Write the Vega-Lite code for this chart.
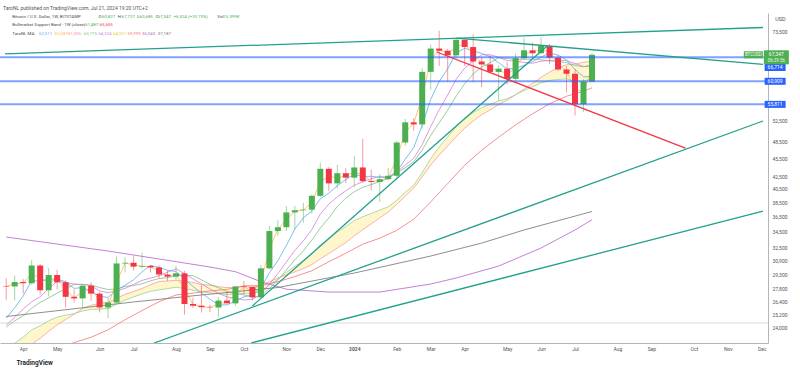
{
"$schema":"https://vega.github.io/schema/vega-lite/v6.json",
"width":768,"height":330,
"autosize":{"type":"none"},
"padding":{"top":13,"left":0,"right":32,"bottom":27},
"background":"#ffffff",
"title":{"text":"TaroNL published on TradingView.com, Jul 21, 2024 19:20 UTC+2","anchor":"start","fontSize":5,"font":"Roboto","fontWeight":"normal","color":"#555555","offset":2,"dx":4},
"config":{"view":{"stroke":null},"font":"Roboto","axis":{"grid":false,"ticks":false,"domainColor":"#b2b5be","labelColor":"#555555","labelFontSize":5,"labelFont":"Roboto","labelOverlap":false,"labelFlush":false}},
"datasets":{
"candles":[
{"d":"2023-03-20","o":28040,"h":28870,"l":26600,"c":27990},
{"d":"2023-03-27","o":27990,"h":29170,"l":26520,"c":28460},
{"d":"2023-04-03","o":28460,"h":28780,"l":27230,"c":28340},
{"d":"2023-04-10","o":28340,"h":30970,"l":28180,"c":30300},
{"d":"2023-04-17","o":30300,"h":30470,"l":27140,"c":27590},
{"d":"2023-04-24","o":27590,"h":30020,"l":26960,"c":29230},
{"d":"2023-05-01","o":29230,"h":29820,"l":27680,"c":28430},
{"d":"2023-05-08","o":28430,"h":28640,"l":25820,"c":26910},
{"d":"2023-05-15","o":26910,"h":27660,"l":26340,"c":26750},
{"d":"2023-05-22","o":26750,"h":28190,"l":25870,"c":28070},
{"d":"2023-05-29","o":28070,"h":28440,"l":26520,"c":27240},
{"d":"2023-06-05","o":27240,"h":27400,"l":25370,"c":25850},
{"d":"2023-06-12","o":25850,"h":26790,"l":24800,"c":26340},
{"d":"2023-06-19","o":26340,"h":31390,"l":26250,"c":30540},
{"d":"2023-06-26","o":30540,"h":31290,"l":29520,"c":30620},
{"d":"2023-07-03","o":30620,"h":31380,"l":29730,"c":30170},
{"d":"2023-07-10","o":30170,"h":31810,"l":29970,"c":30250},
{"d":"2023-07-17","o":30250,"h":30350,"l":29520,"c":30080},
{"d":"2023-07-24","o":30080,"h":30320,"l":28860,"c":29280},
{"d":"2023-07-31","o":29280,"h":29730,"l":28580,"c":29050},
{"d":"2023-08-07","o":29050,"h":30240,"l":28700,"c":29420},
{"d":"2023-08-14","o":29420,"h":29690,"l":25160,"c":26190},
{"d":"2023-08-21","o":26190,"h":26820,"l":25800,"c":26020},
{"d":"2023-08-28","o":26020,"h":28140,"l":25350,"c":25870},
{"d":"2023-09-04","o":25870,"h":26110,"l":25380,"c":25840},
{"d":"2023-09-11","o":25840,"h":26880,"l":24900,"c":26530},
{"d":"2023-09-18","o":26530,"h":27480,"l":26370,"c":26250},
{"d":"2023-09-25","o":26250,"h":28050,"l":25990,"c":27980},
{"d":"2023-10-02","o":27980,"h":28580,"l":27150,"c":27930},
{"d":"2023-10-09","o":27930,"h":27990,"l":26550,"c":26860},
{"d":"2023-10-16","o":26860,"h":30360,"l":26800,"c":29980},
{"d":"2023-10-23","o":29980,"h":35200,"l":29860,"c":34530},
{"d":"2023-10-30","o":34530,"h":35980,"l":33930,"c":35030},
{"d":"2023-11-06","o":35030,"h":37950,"l":34530,"c":37060},
{"d":"2023-11-13","o":37060,"h":37980,"l":34780,"c":37360},
{"d":"2023-11-20","o":37360,"h":38420,"l":35640,"c":37450},
{"d":"2023-11-27","o":37450,"h":39710,"l":36870,"c":39460},
{"d":"2023-12-04","o":39460,"h":44730,"l":39300,"c":43720},
{"d":"2023-12-11","o":43720,"h":44010,"l":40220,"c":41370},
{"d":"2023-12-18","o":41370,"h":44390,"l":40550,"c":42990},
{"d":"2023-12-25","o":42990,"h":43820,"l":41450,"c":42280},
{"d":"2024-01-01","o":42280,"h":45900,"l":40750,"c":43940},
{"d":"2024-01-08","o":43940,"h":48970,"l":41500,"c":41730},
{"d":"2024-01-15","o":41730,"h":43590,"l":40280,"c":41580},
{"d":"2024-01-22","o":41580,"h":42840,"l":38540,"c":42030},
{"d":"2024-01-29","o":42030,"h":43880,"l":41810,"c":42580},
{"d":"2024-02-05","o":42580,"h":48590,"l":42260,"c":48300},
{"d":"2024-02-12","o":48300,"h":52820,"l":47700,"c":52140},
{"d":"2024-02-19","o":52140,"h":52990,"l":50520,"c":51730},
{"d":"2024-02-26","o":51730,"h":64000,"l":50900,"c":63130},
{"d":"2024-03-04","o":63130,"h":69990,"l":59000,"c":68960},
{"d":"2024-03-11","o":68960,"h":73790,"l":64550,"c":68390},
{"d":"2024-03-18","o":68390,"h":68920,"l":60780,"c":67210},
{"d":"2024-03-25","o":67210,"h":71730,"l":66480,"c":71290},
{"d":"2024-04-01","o":71290,"h":71330,"l":64550,"c":69360},
{"d":"2024-04-08","o":69360,"h":72780,"l":60700,"c":65660},
{"d":"2024-04-15","o":65660,"h":66870,"l":59600,"c":64940},
{"d":"2024-04-22","o":64940,"h":67240,"l":62790,"c":63120},
{"d":"2024-04-29","o":63120,"h":64750,"l":56550,"c":63890},
{"d":"2024-05-06","o":63890,"h":65500,"l":60190,"c":61480},
{"d":"2024-05-13","o":61480,"h":67700,"l":60750,"c":66500},
{"d":"2024-05-20","o":66500,"h":71950,"l":66100,"c":68510},
{"d":"2024-05-27","o":68510,"h":70600,"l":66620,"c":67750},
{"d":"2024-06-03","o":67750,"h":71950,"l":67470,"c":69650},
{"d":"2024-06-10","o":69650,"h":70200,"l":65080,"c":66630},
{"d":"2024-06-17","o":66630,"h":67240,"l":63380,"c":63700},
{"d":"2024-06-24","o":63700,"h":64520,"l":58400,"c":62680},
{"d":"2024-07-01","o":62680,"h":63800,"l":53500,"c":55860},
{"d":"2024-07-08","o":55860,"h":61390,"l":54260,"c":60810},
{"d":"2024-07-15","o":60827,"h":67727,"l":60685,"c":67347}
],
"ma":[
{"d":"2023-03-20","o2":28020,"b5":24830,"m8":24190,"g10":24000,"r20":20570,"e21":21980},
{"d":"2023-03-27","o2":28230,"b5":25810,"m8":24880,"g10":24570,"r20":21180,"e21":22570},
{"d":"2023-04-03","o2":28400,"b5":26990,"m8":25700,"g10":25030,"r20":21780,"e21":23100},
{"d":"2023-04-10","o2":29320,"b5":28630,"m8":26410,"g10":25770,"r20":22480,"e21":23750},
{"d":"2023-04-17","o2":28950,"b5":28540,"m8":26910,"g10":26350,"r20":23000,"e21":24100},
{"d":"2023-04-24","o2":28410,"b5":28780,"m8":27760,"g10":26810,"r20":23610,"e21":24570},
{"d":"2023-05-01","o2":28830,"b5":28780,"m8":28550,"g10":27300,"r20":24190,"e21":24920},
{"d":"2023-05-08","o2":27670,"b5":28490,"m8":28410,"g10":27740,"r20":24690,"e21":25100},
{"d":"2023-05-15","o2":26830,"b5":27780,"m8":28250,"g10":28200,"r20":25200,"e21":25250},
{"d":"2023-05-22","o2":27410,"b5":27880,"m8":28200,"g10":28210,"r20":25750,"e21":25500},
{"d":"2023-05-29","o2":27660,"b5":27480,"m8":28070,"g10":28130,"r20":26070,"e21":25660},
{"d":"2023-06-05","o2":26550,"b5":26960,"m8":27510,"g10":27870,"r20":26220,"e21":25680},
{"d":"2023-06-12","o2":26100,"b5":26850,"m8":27350,"g10":27670,"r20":26350,"e21":25740},
{"d":"2023-06-19","o2":28440,"b5":27610,"m8":27520,"g10":27700,"r20":26730,"e21":26170},
{"d":"2023-06-26","o2":30580,"b5":28120,"m8":27790,"g10":28000,"r20":27170,"e21":26580},
{"d":"2023-07-03","o2":30400,"b5":28700,"m8":28200,"g10":28090,"r20":27450,"e21":26900},
{"d":"2023-07-10","o2":30210,"b5":29580,"m8":28640,"g10":28270,"r20":27780,"e21":27210},
{"d":"2023-07-17","o2":30170,"b5":30330,"m8":28890,"g10":28590,"r20":28170,"e21":27470},
{"d":"2023-07-24","o2":29680,"b5":30080,"m8":29140,"g10":28840,"r20":28520,"e21":27630},
{"d":"2023-07-31","o2":29170,"b5":29770,"m8":29540,"g10":28940,"r20":28570,"e21":27760},
{"d":"2023-08-07","o2":29240,"b5":29620,"m8":29930,"g10":29160,"r20":28650,"e21":27910},
{"d":"2023-08-14","o2":27810,"b5":28800,"m8":29380,"g10":29190,"r20":28530,"e21":27760},
{"d":"2023-08-21","o2":26110,"b5":27990,"m8":28810,"g10":29160,"r20":28420,"e21":27600},
{"d":"2023-08-28","o2":25950,"b5":27310,"m8":28270,"g10":28700,"r20":28200,"e21":27440},
{"d":"2023-09-04","o2":25860,"b5":26670,"m8":27720,"g10":28220,"r20":28110,"e21":27300},
{"d":"2023-09-11","o2":26190,"b5":26090,"m8":27280,"g10":27850,"r20":27970,"e21":27230},
{"d":"2023-09-18","o2":26390,"b5":26100,"m8":26900,"g10":27450,"r20":27860,"e21":27140},
{"d":"2023-09-25","o2":27120,"b5":26490,"m8":26760,"g10":27240,"r20":27920,"e21":27210},
{"d":"2023-10-02","o2":27960,"b5":26910,"m8":26580,"g10":27110,"r20":27980,"e21":27280},
{"d":"2023-10-09","o2":27400,"b5":27110,"m8":26660,"g10":26890,"r20":27920,"e21":27240},
{"d":"2023-10-16","o2":28420,"b5":27800,"m8":27160,"g10":26950,"r20":28050,"e21":27490},
{"d":"2023-10-23","o2":32260,"b5":29460,"m8":28240,"g10":27780,"r20":28490,"e21":28130},
{"d":"2023-10-30","o2":34780,"b5":30870,"m8":29390,"g10":28680,"r20":28920,"e21":28760},
{"d":"2023-11-06","o2":36050,"b5":32690,"m8":30700,"g10":29800,"r20":29250,"e21":29510},
{"d":"2023-11-13","o2":37210,"b5":34790,"m8":32090,"g10":30950,"r20":29580,"e21":30220},
{"d":"2023-11-20","o2":37410,"b5":36290,"m8":33280,"g10":32040,"r20":29950,"e21":30880},
{"d":"2023-11-27","o2":38460,"b5":37270,"m8":34720,"g10":33360,"r20":30410,"e21":31660},
{"d":"2023-12-04","o2":41590,"b5":39010,"m8":36820,"g10":34940,"r20":31090,"e21":32760},
{"d":"2023-12-11","o2":42550,"b5":39870,"m8":38250,"g10":36280,"r20":31700,"e21":33540},
{"d":"2023-12-18","o2":42180,"b5":41000,"m8":39310,"g10":37900,"r20":32390,"e21":34400},
{"d":"2023-12-25","o2":42640,"b5":41960,"m8":40210,"g10":39130,"r20":33040,"e21":35120},
{"d":"2024-01-01","o2":43110,"b5":42860,"m8":41070,"g10":40070,"r20":33920,"e21":35920},
{"d":"2024-01-08","o2":42840,"b5":42460,"m8":41620,"g10":40740,"r20":34710,"e21":36450},
{"d":"2024-01-15","o2":41660,"b5":42500,"m8":42130,"g10":41190,"r20":35490,"e21":36910},
{"d":"2024-01-22","o2":41810,"b5":42310,"m8":42460,"g10":41660,"r20":36300,"e21":37380},
{"d":"2024-01-29","o2":42310,"b5":42370,"m8":42310,"g10":42170,"r20":37110,"e21":37850},
{"d":"2024-02-05","o2":45440,"b5":43240,"m8":43180,"g10":43050,"r20":38210,"e21":38800},
{"d":"2024-02-12","o2":50220,"b5":45330,"m8":44320,"g10":43890,"r20":39420,"e21":40010},
{"d":"2024-02-19","o2":51940,"b5":47360,"m8":45500,"g10":44930,"r20":40610,"e21":41080},
{"d":"2024-02-26","o2":57430,"b5":51580,"m8":47900,"g10":46940,"r20":42420,"e21":43080},
{"d":"2024-03-04","o2":66050,"b5":56850,"m8":51310,"g10":49610,"r20":44370,"e21":45430},
{"d":"2024-03-11","o2":68680,"b5":60870,"m8":54660,"g10":52060,"r20":46060,"e21":47520},
{"d":"2024-03-18","o2":67800,"b5":63880,"m8":57810,"g10":54610,"r20":47670,"e21":49310},
{"d":"2024-03-25","o2":69250,"b5":67800,"m8":61390,"g10":57580,"r20":49380,"e21":51310},
{"d":"2024-04-01","o2":70330,"b5":69040,"m8":64030,"g10":60310,"r20":50980,"e21":52950},
{"d":"2024-04-08","o2":67510,"b5":68380,"m8":65720,"g10":62620,"r20":52390,"e21":54110},
{"d":"2024-04-15","o2":65300,"b5":67690,"m8":67370,"g10":64280,"r20":53670,"e21":55090},
{"d":"2024-04-22","o2":64030,"b5":66870,"m8":67370,"g10":65380,"r20":54640,"e21":55820},
{"d":"2024-04-29","o2":63510,"b5":65390,"m8":66730,"g10":66600,"r20":55760,"e21":56560},
{"d":"2024-05-06","o2":62690,"b5":63820,"m8":65870,"g10":66430,"r20":56690,"e21":57000},
{"d":"2024-05-13","o2":63990,"b5":63990,"m8":65780,"g10":66180,"r20":57900,"e21":57870},
{"d":"2024-05-20","o2":67510,"b5":64700,"m8":65430,"g10":66200,"r20":59130,"e21":58840},
{"d":"2024-05-27","o2":68130,"b5":65630,"m8":65230,"g10":66250,"r20":60430,"e21":59650},
{"d":"2024-06-03","o2":68700,"b5":66780,"m8":65730,"g10":66090,"r20":61830,"e21":60560},
{"d":"2024-06-10","o2":68140,"b5":67810,"m8":65940,"g10":65810,"r20":63060,"e21":61110},
{"d":"2024-06-17","o2":65170,"b5":67250,"m8":66010,"g10":65620,"r20":64120,"e21":61340},
{"d":"2024-06-24","o2":63190,"b5":66080,"m8":65860,"g10":65390,"r20":64840,"e21":61470},
{"d":"2024-07-01","o2":59270,"b5":63700,"m8":65160,"g10":64670,"r20":65020,"e21":60960},
{"d":"2024-07-08","o2":58340,"b5":61940,"m8":64450,"g10":64360,"r20":65480,"e21":60950},
{"d":"2024-07-15","o2":64090,"b5":62080,"m8":64310,"g10":64950,"r20":65690,"e21":61530}
],
"long":[
{"s":"r30","d":"2023-03-20","v":20350},{"s":"r30","d":"2023-04-03","v":20850},{"s":"r30","d":"2023-04-17","v":21510},{"s":"r30","d":"2023-05-01","v":22140},{"s":"r30","d":"2023-05-15","v":22630},{"s":"r30","d":"2023-05-29","v":23090},{"s":"r30","d":"2023-06-12","v":23750},{"s":"r30","d":"2023-06-26","v":24670},{"s":"r30","d":"2023-07-10","v":25550},{"s":"r30","d":"2023-07-24","v":26410},{"s":"r30","d":"2023-08-07","v":27100},{"s":"r30","d":"2023-08-21","v":27290},{"s":"r30","d":"2023-09-04","v":27520},{"s":"r30","d":"2023-09-18","v":27670},{"s":"r30","d":"2023-10-02","v":28050},{"s":"r30","d":"2023-10-16","v":28080},{"s":"r30","d":"2023-10-30","v":28500},{"s":"r30","d":"2023-11-13","v":29060},{"s":"r30","d":"2023-11-27","v":29700},{"s":"r30","d":"2023-12-11","v":30740},{"s":"r30","d":"2023-12-25","v":31740},{"s":"r30","d":"2024-01-08","v":32860},{"s":"r30","d":"2024-01-22","v":33610},{"s":"r30","d":"2024-02-05","v":34620},{"s":"r30","d":"2024-02-19","v":36110},{"s":"r30","d":"2024-03-04","v":38560},{"s":"r30","d":"2024-03-18","v":41340},{"s":"r30","d":"2024-04-01","v":44310},{"s":"r30","d":"2024-04-15","v":46900},{"s":"r30","d":"2024-04-29","v":49270},{"s":"r30","d":"2024-05-13","v":51640},{"s":"r30","d":"2024-05-27","v":53860},{"s":"r30","d":"2024-06-10","v":55930},{"s":"r30","d":"2024-06-24","v":57570},{"s":"r30","d":"2024-07-08","v":58630},{"s":"r30","d":"2024-07-15","v":59440},
{"s":"purple","d":"2023-03-20","v":33760},{"s":"purple","d":"2023-05-01","v":32870},{"s":"purple","d":"2023-06-12","v":32010},{"s":"purple","d":"2023-07-24","v":31060},{"s":"purple","d":"2023-09-04","v":30130},{"s":"purple","d":"2023-09-25","v":29600},{"s":"purple","d":"2023-10-16","v":28500},{"s":"purple","d":"2023-11-06","v":27700},{"s":"purple","d":"2023-12-11","v":27400},{"s":"purple","d":"2024-01-22","v":27400},{"s":"purple","d":"2024-03-04","v":28250},{"s":"purple","d":"2024-03-25","v":28900},{"s":"purple","d":"2024-04-29","v":30240},{"s":"purple","d":"2024-06-03","v":32380},{"s":"purple","d":"2024-07-01","v":34670},{"s":"purple","d":"2024-07-15","v":36040},
{"s":"gray","d":"2023-03-20","v":24975},{"s":"gray","d":"2023-07-03","v":26390},{"s":"gray","d":"2023-08-28","v":27100},{"s":"gray","d":"2023-10-30","v":27880},{"s":"gray","d":"2024-01-01","v":29450},{"s":"gray","d":"2024-03-04","v":31410},{"s":"gray","d":"2024-04-15","v":32990},{"s":"gray","d":"2024-05-20","v":34670},{"s":"gray","d":"2024-07-15","v":37190}
],
"levels":[{"p":66714},{"p":60909},{"p":55811}],
"trend":[
{"id":"t1","s":"sup","d":"2023-03-19","p":67560},{"id":"t1","s":"sup","d":"2024-12-03","p":74690},
{"id":"t2","s":"sup","d":"2024-03-25","p":71760},{"id":"t2","s":"sup","d":"2024-12-03","p":64970},
{"id":"a","s":"sup","d":"2023-07-20","p":22590},{"id":"a","s":"sup","d":"2024-12-03","p":52400},
{"id":"b","s":"sup","d":"2023-10-08","p":22590},{"id":"b","s":"sup","d":"2024-12-03","p":37250},
{"id":"c","s":"sup","d":"2023-10-09","p":26000},{"id":"c","s":"sup","d":"2024-06-08","p":69640},
{"id":"r","s":"res","d":"2024-03-09","p":68070},{"id":"r","s":"res","d":"2024-09-30","p":47300}
],
"legend":[
{"t":"Bitcoin / U.S. Dollar, 1W, BITSTAMP","d":"2023-03-25","p":77730,"s":"txt"},
{"t":"O","d":"2023-06-04","p":77730,"s":"txt"},
{"t":"60,827","d":"2023-06-07","p":77730,"s":"up"},
{"t":"H","d":"2023-06-20","p":77730,"s":"txt"},
{"t":"67,727","d":"2023-06-23","p":77730,"s":"up"},
{"t":"L","d":"2023-07-06","p":77730,"s":"txt"},
{"t":"60,685","d":"2023-07-08","p":77730,"s":"up"},
{"t":"C","d":"2023-07-21","p":77730,"s":"txt"},
{"t":"67,347","d":"2023-07-23","p":77730,"s":"up"},
{"t":"+6,524 (+10.73%)","d":"2023-08-05","p":77730,"s":"up"},
{"t":"Vol","d":"2023-09-10","p":77730,"s":"txt"},
{"t":"15.399K","d":"2023-09-15","p":77730,"s":"up"},
{"t":"Bullmarket Support Band - 1W (close)","d":"2023-03-25","p":75400,"s":"txt"},
{"t":"61,487","d":"2023-05-24","p":75400,"s":"up"},
{"t":"65,655","d":"2023-06-05","p":75400,"s":"down"},
{"t":"TaroNL MA","d":"2023-03-25","p":73010,"s":"txt"},
{"t":"62,511","d":"2023-04-16","p":73010,"s":"b5"},
{"t":"65,587","d":"2023-04-29","p":73010,"s":"o2"},
{"t":"61,005","d":"2023-05-10","p":73010,"s":"pink"},
{"t":"63,775","d":"2023-05-23","p":73010,"s":"g10"},
{"t":"64,324","d":"2023-06-04","p":73010,"s":"m8"},
{"t":"64,321","d":"2023-06-16","p":73010,"s":"yellow"},
{"t":"59,999","d":"2023-06-28","p":73010,"s":"r30"},
{"t":"36,043","d":"2023-07-10","p":73010,"s":"purple"},
{"t":"37,187","d":"2023-07-23","p":73010,"s":"gray"}
]
},
"layer":[
{"data":{"values":[{"p":24360}]},"mark":{"type":"rule","color":"#e6e6e6","strokeWidth":1.5},
 "encoding":{"y":{"field":"p","type":"quantitative","scale":{"type":"log","domain":[22590,78910],"nice":false},"axis":{"orient":"right","values":[24000,25200,26400,27800,29300,30900,32500,34500,36500,38500,40500,42500,45500,48500,52500,73500],"format":",","labelPadding":4,"labelOverlap":false,"title":"USD","titleAngle":0,"titleX":12,"titleY":5,"titleAlign":"center","titleBaseline":"middle","titleFontSize":5.5,"titleFontWeight":"normal","titleColor":"#555555"}}}},
{"data":{"name":"ma"},"mark":{"type":"area","color":"#fff1a8","opacity":0.6,"clip":true},
 "encoding":{"x":{"field":"d","type":"temporal","scale":{"type":"utc","domain":[{"year":2023,"month":3,"date":19,"utc":true},{"year":2024,"month":12,"date":3,"utc":true}]},"axis":{"values":[1680480000000,1682899200000,1685923200000,1688342400000,1691366400000,1693785600000,1696204800000,1699228800000,1701648000000,1704067200000,1707091200000,1709510400000,1711929600000,1714953600000,1717372800000,1719792000000,1722816000000,1725235200000,1728259200000,1730678400000,1733097600000],"labelExpr":"utcmonth(datum.value)==0 ? utcFormat(datum.value,'%Y') : utcFormat(datum.value,'%b')","labelFontWeight":{"condition":{"test":"utcmonth(datum.value)==0","value":"bold"},"value":"normal"},"labelPadding":3,"labelOverlap":false,"labelFlush":false,"title":"TradingView","titleX":16,"titleY":19,"titleAlign":"left","titleBaseline":"middle","titleFontSize":6.5,"titleFontWeight":600,"titleColor":"#131722"}},
  "y":{"field":"e21","type":"quantitative","scale":{"type":"log","domain":[22590,78910],"nice":false},"axis":{"orient":"right","values":[24000,25200,26400,27800,29300,30900,32500,34500,36500,38500,40500,42500,45500,48500,52500,73500],"format":",","labelPadding":4,"labelOverlap":false,"title":"USD","titleAngle":0,"titleX":12,"titleY":5,"titleAlign":"center","titleBaseline":"middle","titleFontSize":5.5,"titleFontWeight":"normal","titleColor":"#555555"}},
  "y2":{"field":"r20"}}},
{"data":{"name":"ma"},"transform":[{"fold":["r20","e21","g10","m8","b5","o2"],"as":["s","v"]}],
 "mark":{"type":"line","strokeWidth":1,"opacity":0.8,"clip":true},
 "encoding":{"x":{"field":"d","type":"temporal","scale":{"type":"utc","domain":[{"year":2023,"month":3,"date":19,"utc":true},{"year":2024,"month":12,"date":3,"utc":true}]},"axis":{"values":[1680480000000,1682899200000,1685923200000,1688342400000,1691366400000,1693785600000,1696204800000,1699228800000,1701648000000,1704067200000,1707091200000,1709510400000,1711929600000,1714953600000,1717372800000,1719792000000,1722816000000,1725235200000,1728259200000,1730678400000,1733097600000],"labelExpr":"utcmonth(datum.value)==0 ? utcFormat(datum.value,'%Y') : utcFormat(datum.value,'%b')","labelFontWeight":{"condition":{"test":"utcmonth(datum.value)==0","value":"bold"},"value":"normal"},"labelPadding":3,"labelOverlap":false,"labelFlush":false,"title":"TradingView","titleX":16,"titleY":19,"titleAlign":"left","titleBaseline":"middle","titleFontSize":6.5,"titleFontWeight":600,"titleColor":"#131722"}},
  "y":{"field":"v","type":"quantitative","scale":{"type":"log","domain":[22590,78910],"nice":false},"axis":{"orient":"right","values":[24000,25200,26400,27800,29300,30900,32500,34500,36500,38500,40500,42500,45500,48500,52500,73500],"format":",","labelPadding":4,"labelOverlap":false,"title":"USD","titleAngle":0,"titleX":12,"titleY":5,"titleAlign":"center","titleBaseline":"middle","titleFontSize":5.5,"titleFontWeight":"normal","titleColor":"#555555"}},
  "color":{"field":"s","type":"nominal","legend":null,"scale":{"domain":["txt","up","down","o2","b5","pink","g10","m8","yellow","r30","purple","gray","r20","e21","sup","res"],"range":["#4a4a4a","#4caf50","#f23645","#ffb74d","#5cacf0","#f48fb1","#7cc47f","#d47fdc","#e6c619","#f77b7b","#b86bcc","#7a7a7a","#f4a0a0","#9ccf9e","#22a08c","#f23645"]}}}},
{"data":{"name":"long"},
 "mark":{"type":"line","strokeWidth":1,"opacity":0.85,"clip":true},
 "encoding":{"x":{"field":"d","type":"temporal","scale":{"type":"utc","domain":[{"year":2023,"month":3,"date":19,"utc":true},{"year":2024,"month":12,"date":3,"utc":true}]},"axis":{"values":[1680480000000,1682899200000,1685923200000,1688342400000,1691366400000,1693785600000,1696204800000,1699228800000,1701648000000,1704067200000,1707091200000,1709510400000,1711929600000,1714953600000,1717372800000,1719792000000,1722816000000,1725235200000,1728259200000,1730678400000,1733097600000],"labelExpr":"utcmonth(datum.value)==0 ? utcFormat(datum.value,'%Y') : utcFormat(datum.value,'%b')","labelFontWeight":{"condition":{"test":"utcmonth(datum.value)==0","value":"bold"},"value":"normal"},"labelPadding":3,"labelOverlap":false,"labelFlush":false,"title":"TradingView","titleX":16,"titleY":19,"titleAlign":"left","titleBaseline":"middle","titleFontSize":6.5,"titleFontWeight":600,"titleColor":"#131722"}},
  "y":{"field":"v","type":"quantitative","scale":{"type":"log","domain":[22590,78910],"nice":false},"axis":{"orient":"right","values":[24000,25200,26400,27800,29300,30900,32500,34500,36500,38500,40500,42500,45500,48500,52500,73500],"format":",","labelPadding":4,"labelOverlap":false,"title":"USD","titleAngle":0,"titleX":12,"titleY":5,"titleAlign":"center","titleBaseline":"middle","titleFontSize":5.5,"titleFontWeight":"normal","titleColor":"#555555"}},
  "color":{"field":"s","type":"nominal","legend":null}}},
{"data":{"name":"candles"},"mark":{"type":"rule","strokeWidth":1,"opacity":0.5,"clip":true},
 "encoding":{"x":{"field":"d","type":"temporal","scale":{"type":"utc","domain":[{"year":2023,"month":3,"date":19,"utc":true},{"year":2024,"month":12,"date":3,"utc":true}]},"axis":{"values":[1680480000000,1682899200000,1685923200000,1688342400000,1691366400000,1693785600000,1696204800000,1699228800000,1701648000000,1704067200000,1707091200000,1709510400000,1711929600000,1714953600000,1717372800000,1719792000000,1722816000000,1725235200000,1728259200000,1730678400000,1733097600000],"labelExpr":"utcmonth(datum.value)==0 ? utcFormat(datum.value,'%Y') : utcFormat(datum.value,'%b')","labelFontWeight":{"condition":{"test":"utcmonth(datum.value)==0","value":"bold"},"value":"normal"},"labelPadding":3,"labelOverlap":false,"labelFlush":false,"title":"TradingView","titleX":16,"titleY":19,"titleAlign":"left","titleBaseline":"middle","titleFontSize":6.5,"titleFontWeight":600,"titleColor":"#131722"}},
  "y":{"field":"l","type":"quantitative","scale":{"type":"log","domain":[22590,78910],"nice":false},"axis":{"orient":"right","values":[24000,25200,26400,27800,29300,30900,32500,34500,36500,38500,40500,42500,45500,48500,52500,73500],"format":",","labelPadding":4,"labelOverlap":false,"title":"USD","titleAngle":0,"titleX":12,"titleY":5,"titleAlign":"center","titleBaseline":"middle","titleFontSize":5.5,"titleFontWeight":"normal","titleColor":"#555555"}},
  "y2":{"field":"h"},
  "color":{"condition":{"test":"datum.c >= datum.o","value":"#4caf50"},"value":"#f23645"}}},
{"data":{"name":"candles"},"mark":{"type":"bar","size":6,"clip":true},
 "encoding":{"x":{"field":"d","type":"temporal","scale":{"type":"utc","domain":[{"year":2023,"month":3,"date":19,"utc":true},{"year":2024,"month":12,"date":3,"utc":true}]},"axis":{"values":[1680480000000,1682899200000,1685923200000,1688342400000,1691366400000,1693785600000,1696204800000,1699228800000,1701648000000,1704067200000,1707091200000,1709510400000,1711929600000,1714953600000,1717372800000,1719792000000,1722816000000,1725235200000,1728259200000,1730678400000,1733097600000],"labelExpr":"utcmonth(datum.value)==0 ? utcFormat(datum.value,'%Y') : utcFormat(datum.value,'%b')","labelFontWeight":{"condition":{"test":"utcmonth(datum.value)==0","value":"bold"},"value":"normal"},"labelPadding":3,"labelOverlap":false,"labelFlush":false,"title":"TradingView","titleX":16,"titleY":19,"titleAlign":"left","titleBaseline":"middle","titleFontSize":6.5,"titleFontWeight":600,"titleColor":"#131722"}},
  "y":{"field":"o","type":"quantitative","scale":{"type":"log","domain":[22590,78910],"nice":false},"axis":{"orient":"right","values":[24000,25200,26400,27800,29300,30900,32500,34500,36500,38500,40500,42500,45500,48500,52500,73500],"format":",","labelPadding":4,"labelOverlap":false,"title":"USD","titleAngle":0,"titleX":12,"titleY":5,"titleAlign":"center","titleBaseline":"middle","titleFontSize":5.5,"titleFontWeight":"normal","titleColor":"#555555"}},
  "y2":{"field":"c"},
  "color":{"condition":{"test":"datum.c >= datum.o","value":"#4caf50"},"value":"#f23645"}}},
{"data":{"name":"levels"},"mark":{"type":"rule","color":"#2962ff","strokeWidth":2,"opacity":0.6},
 "encoding":{"y":{"field":"p","type":"quantitative","scale":{"type":"log","domain":[22590,78910],"nice":false},"axis":{"orient":"right","values":[24000,25200,26400,27800,29300,30900,32500,34500,36500,38500,40500,42500,45500,48500,52500,73500],"format":",","labelPadding":4,"labelOverlap":false,"title":"USD","titleAngle":0,"titleX":12,"titleY":5,"titleAlign":"center","titleBaseline":"middle","titleFontSize":5.5,"titleFontWeight":"normal","titleColor":"#555555"}}}},
{"data":{"name":"trend"},"mark":{"type":"line","strokeWidth":1.3,"clip":true},
 "encoding":{"x":{"field":"d","type":"temporal","scale":{"type":"utc","domain":[{"year":2023,"month":3,"date":19,"utc":true},{"year":2024,"month":12,"date":3,"utc":true}]},"axis":{"values":[1680480000000,1682899200000,1685923200000,1688342400000,1691366400000,1693785600000,1696204800000,1699228800000,1701648000000,1704067200000,1707091200000,1709510400000,1711929600000,1714953600000,1717372800000,1719792000000,1722816000000,1725235200000,1728259200000,1730678400000,1733097600000],"labelExpr":"utcmonth(datum.value)==0 ? utcFormat(datum.value,'%Y') : utcFormat(datum.value,'%b')","labelFontWeight":{"condition":{"test":"utcmonth(datum.value)==0","value":"bold"},"value":"normal"},"labelPadding":3,"labelOverlap":false,"labelFlush":false,"title":"TradingView","titleX":16,"titleY":19,"titleAlign":"left","titleBaseline":"middle","titleFontSize":6.5,"titleFontWeight":600,"titleColor":"#131722"}},
  "y":{"field":"p","type":"quantitative","scale":{"type":"log","domain":[22590,78910],"nice":false},"axis":{"orient":"right","values":[24000,25200,26400,27800,29300,30900,32500,34500,36500,38500,40500,42500,45500,48500,52500,73500],"format":",","labelPadding":4,"labelOverlap":false,"title":"USD","titleAngle":0,"titleX":12,"titleY":5,"titleAlign":"center","titleBaseline":"middle","titleFontSize":5.5,"titleFontWeight":"normal","titleColor":"#555555"}},
  "color":{"field":"s","type":"nominal","legend":null},
  "detail":{"field":"id","type":"nominal"}}},
{"data":{"name":"legend"},"mark":{"type":"text","align":"left","baseline":"middle","fontSize":4.4},
 "encoding":{"x":{"field":"d","type":"temporal","scale":{"type":"utc","domain":[{"year":2023,"month":3,"date":19,"utc":true},{"year":2024,"month":12,"date":3,"utc":true}]},"axis":{"values":[1680480000000,1682899200000,1685923200000,1688342400000,1691366400000,1693785600000,1696204800000,1699228800000,1701648000000,1704067200000,1707091200000,1709510400000,1711929600000,1714953600000,1717372800000,1719792000000,1722816000000,1725235200000,1728259200000,1730678400000,1733097600000],"labelExpr":"utcmonth(datum.value)==0 ? utcFormat(datum.value,'%Y') : utcFormat(datum.value,'%b')","labelFontWeight":{"condition":{"test":"utcmonth(datum.value)==0","value":"bold"},"value":"normal"},"labelPadding":3,"labelOverlap":false,"labelFlush":false,"title":"TradingView","titleX":16,"titleY":19,"titleAlign":"left","titleBaseline":"middle","titleFontSize":6.5,"titleFontWeight":600,"titleColor":"#131722"}},
  "y":{"field":"p","type":"quantitative","scale":{"type":"log","domain":[22590,78910],"nice":false},"axis":{"orient":"right","values":[24000,25200,26400,27800,29300,30900,32500,34500,36500,38500,40500,42500,45500,48500,52500,73500],"format":",","labelPadding":4,"labelOverlap":false,"title":"USD","titleAngle":0,"titleX":12,"titleY":5,"titleAlign":"center","titleBaseline":"middle","titleFontSize":5.5,"titleFontWeight":"normal","titleColor":"#555555"}},
  "text":{"field":"t"},
  "color":{"field":"s","type":"nominal","legend":null}}},
{"data":{"name":"levels"},"transform":[{"filter":"datum.p < 66000"}],"mark":{"type":"point","shape":"M-1,-0.333H1V0.333H-1Z","size":441,"filled":true,"opacity":1,"color":"#2962ff"},
 "encoding":{"x":{"datum":{"year":2024,"month":12,"date":13,"utc":true},"type":"temporal","scale":{"type":"utc","domain":[{"year":2023,"month":3,"date":19,"utc":true},{"year":2024,"month":12,"date":3,"utc":true}]},"axis":{"values":[1680480000000,1682899200000,1685923200000,1688342400000,1691366400000,1693785600000,1696204800000,1699228800000,1701648000000,1704067200000,1707091200000,1709510400000,1711929600000,1714953600000,1717372800000,1719792000000,1722816000000,1725235200000,1728259200000,1730678400000,1733097600000],"labelExpr":"utcmonth(datum.value)==0 ? utcFormat(datum.value,'%Y') : utcFormat(datum.value,'%b')","labelFontWeight":{"condition":{"test":"utcmonth(datum.value)==0","value":"bold"},"value":"normal"},"labelPadding":3,"labelOverlap":false,"labelFlush":false,"title":"TradingView","titleX":16,"titleY":19,"titleAlign":"left","titleBaseline":"middle","titleFontSize":6.5,"titleFontWeight":600,"titleColor":"#131722"}},
  "y":{"field":"p","type":"quantitative","scale":{"type":"log","domain":[22590,78910],"nice":false},"axis":{"orient":"right","values":[24000,25200,26400,27800,29300,30900,32500,34500,36500,38500,40500,42500,45500,48500,52500,73500],"format":",","labelPadding":4,"labelOverlap":false,"title":"USD","titleAngle":0,"titleX":12,"titleY":5,"titleAlign":"center","titleBaseline":"middle","titleFontSize":5.5,"titleFontWeight":"normal","titleColor":"#555555"}}}},
{"data":{"name":"levels"},"transform":[{"filter":"datum.p > 66000"}],"mark":{"type":"point","shape":"M-1,-0.333H1V0.333H-1Z","size":441,"filled":true,"opacity":1,"color":"#2962ff","yOffset":10.2},
 "encoding":{"x":{"datum":{"year":2024,"month":12,"date":13,"utc":true},"type":"temporal","scale":{"type":"utc","domain":[{"year":2023,"month":3,"date":19,"utc":true},{"year":2024,"month":12,"date":3,"utc":true}]},"axis":{"values":[1680480000000,1682899200000,1685923200000,1688342400000,1691366400000,1693785600000,1696204800000,1699228800000,1701648000000,1704067200000,1707091200000,1709510400000,1711929600000,1714953600000,1717372800000,1719792000000,1722816000000,1725235200000,1728259200000,1730678400000,1733097600000],"labelExpr":"utcmonth(datum.value)==0 ? utcFormat(datum.value,'%Y') : utcFormat(datum.value,'%b')","labelFontWeight":{"condition":{"test":"utcmonth(datum.value)==0","value":"bold"},"value":"normal"},"labelPadding":3,"labelOverlap":false,"labelFlush":false,"title":"TradingView","titleX":16,"titleY":19,"titleAlign":"left","titleBaseline":"middle","titleFontSize":6.5,"titleFontWeight":600,"titleColor":"#131722"}},
  "y":{"field":"p","type":"quantitative","scale":{"type":"log","domain":[22590,78910],"nice":false},"axis":{"orient":"right","values":[24000,25200,26400,27800,29300,30900,32500,34500,36500,38500,40500,42500,45500,48500,52500,73500],"format":",","labelPadding":4,"labelOverlap":false,"title":"USD","titleAngle":0,"titleX":12,"titleY":5,"titleAlign":"center","titleBaseline":"middle","titleFontSize":5.5,"titleFontWeight":"normal","titleColor":"#555555"}}}},
{"data":{"name":"levels"},"transform":[{"filter":"datum.p < 66000"}],"mark":{"type":"text","align":"center","baseline":"middle","fontSize":5,"color":"#ffffff"},
 "encoding":{"x":{"datum":{"year":2024,"month":12,"date":13,"utc":true},"type":"temporal","scale":{"type":"utc","domain":[{"year":2023,"month":3,"date":19,"utc":true},{"year":2024,"month":12,"date":3,"utc":true}]},"axis":{"values":[1680480000000,1682899200000,1685923200000,1688342400000,1691366400000,1693785600000,1696204800000,1699228800000,1701648000000,1704067200000,1707091200000,1709510400000,1711929600000,1714953600000,1717372800000,1719792000000,1722816000000,1725235200000,1728259200000,1730678400000,1733097600000],"labelExpr":"utcmonth(datum.value)==0 ? utcFormat(datum.value,'%Y') : utcFormat(datum.value,'%b')","labelFontWeight":{"condition":{"test":"utcmonth(datum.value)==0","value":"bold"},"value":"normal"},"labelPadding":3,"labelOverlap":false,"labelFlush":false,"title":"TradingView","titleX":16,"titleY":19,"titleAlign":"left","titleBaseline":"middle","titleFontSize":6.5,"titleFontWeight":600,"titleColor":"#131722"}},
  "y":{"field":"p","type":"quantitative","scale":{"type":"log","domain":[22590,78910],"nice":false},"axis":{"orient":"right","values":[24000,25200,26400,27800,29300,30900,32500,34500,36500,38500,40500,42500,45500,48500,52500,73500],"format":",","labelPadding":4,"labelOverlap":false,"title":"USD","titleAngle":0,"titleX":12,"titleY":5,"titleAlign":"center","titleBaseline":"middle","titleFontSize":5.5,"titleFontWeight":"normal","titleColor":"#555555"}},
  "text":{"field":"p","type":"quantitative","format":","}}},
{"data":{"name":"levels"},"transform":[{"filter":"datum.p > 66000"}],"mark":{"type":"text","align":"center","baseline":"middle","fontSize":5,"color":"#ffffff","yOffset":10.2},
 "encoding":{"x":{"datum":{"year":2024,"month":12,"date":13,"utc":true},"type":"temporal","scale":{"type":"utc","domain":[{"year":2023,"month":3,"date":19,"utc":true},{"year":2024,"month":12,"date":3,"utc":true}]},"axis":{"values":[1680480000000,1682899200000,1685923200000,1688342400000,1691366400000,1693785600000,1696204800000,1699228800000,1701648000000,1704067200000,1707091200000,1709510400000,1711929600000,1714953600000,1717372800000,1719792000000,1722816000000,1725235200000,1728259200000,1730678400000,1733097600000],"labelExpr":"utcmonth(datum.value)==0 ? utcFormat(datum.value,'%Y') : utcFormat(datum.value,'%b')","labelFontWeight":{"condition":{"test":"utcmonth(datum.value)==0","value":"bold"},"value":"normal"},"labelPadding":3,"labelOverlap":false,"labelFlush":false,"title":"TradingView","titleX":16,"titleY":19,"titleAlign":"left","titleBaseline":"middle","titleFontSize":6.5,"titleFontWeight":600,"titleColor":"#131722"}},
  "y":{"field":"p","type":"quantitative","scale":{"type":"log","domain":[22590,78910],"nice":false},"axis":{"orient":"right","values":[24000,25200,26400,27800,29300,30900,32500,34500,36500,38500,40500,42500,45500,48500,52500,73500],"format":",","labelPadding":4,"labelOverlap":false,"title":"USD","titleAngle":0,"titleX":12,"titleY":5,"titleAlign":"center","titleBaseline":"middle","titleFontSize":5.5,"titleFontWeight":"normal","titleColor":"#555555"}},
  "text":{"field":"p","type":"quantitative","format":","}}},
{"data":{"name":"candles"},"transform":[{"filter":"datum.c === 67347"}],"mark":{"type":"point","shape":"M-1,-0.36H1V0.76H-1Z","size":625,"filled":true,"opacity":1,"color":"#4caf50"},
 "encoding":{"x":{"datum":{"year":2024,"month":12,"date":14,"utc":true},"type":"temporal","scale":{"type":"utc","domain":[{"year":2023,"month":3,"date":19,"utc":true},{"year":2024,"month":12,"date":3,"utc":true}]},"axis":{"values":[1680480000000,1682899200000,1685923200000,1688342400000,1691366400000,1693785600000,1696204800000,1699228800000,1701648000000,1704067200000,1707091200000,1709510400000,1711929600000,1714953600000,1717372800000,1719792000000,1722816000000,1725235200000,1728259200000,1730678400000,1733097600000],"labelExpr":"utcmonth(datum.value)==0 ? utcFormat(datum.value,'%Y') : utcFormat(datum.value,'%b')","labelFontWeight":{"condition":{"test":"utcmonth(datum.value)==0","value":"bold"},"value":"normal"},"labelPadding":3,"labelOverlap":false,"labelFlush":false,"title":"TradingView","titleX":16,"titleY":19,"titleAlign":"left","titleBaseline":"middle","titleFontSize":6.5,"titleFontWeight":600,"titleColor":"#131722"}},
  "y":{"field":"c","type":"quantitative","scale":{"type":"log","domain":[22590,78910],"nice":false},"axis":{"orient":"right","values":[24000,25200,26400,27800,29300,30900,32500,34500,36500,38500,40500,42500,45500,48500,52500,73500],"format":",","labelPadding":4,"labelOverlap":false,"title":"USD","titleAngle":0,"titleX":12,"titleY":5,"titleAlign":"center","titleBaseline":"middle","titleFontSize":5.5,"titleFontWeight":"normal","titleColor":"#555555"}}}},
{"data":{"name":"candles"},"transform":[{"filter":"datum.c === 67347"}],"mark":{"type":"point","shape":"M-1,-0.368H1V0.368H-1Z","size":361,"filled":true,"opacity":1,"color":"#4caf50"},
 "encoding":{"x":{"datum":{"year":2024,"month":11,"date":25,"utc":true},"type":"temporal","scale":{"type":"utc","domain":[{"year":2023,"month":3,"date":19,"utc":true},{"year":2024,"month":12,"date":3,"utc":true}]},"axis":{"values":[1680480000000,1682899200000,1685923200000,1688342400000,1691366400000,1693785600000,1696204800000,1699228800000,1701648000000,1704067200000,1707091200000,1709510400000,1711929600000,1714953600000,1717372800000,1719792000000,1722816000000,1725235200000,1728259200000,1730678400000,1733097600000],"labelExpr":"utcmonth(datum.value)==0 ? utcFormat(datum.value,'%Y') : utcFormat(datum.value,'%b')","labelFontWeight":{"condition":{"test":"utcmonth(datum.value)==0","value":"bold"},"value":"normal"},"labelPadding":3,"labelOverlap":false,"labelFlush":false,"title":"TradingView","titleX":16,"titleY":19,"titleAlign":"left","titleBaseline":"middle","titleFontSize":6.5,"titleFontWeight":600,"titleColor":"#131722"}},
  "y":{"field":"c","type":"quantitative","scale":{"type":"log","domain":[22590,78910],"nice":false},"axis":{"orient":"right","values":[24000,25200,26400,27800,29300,30900,32500,34500,36500,38500,40500,42500,45500,48500,52500,73500],"format":",","labelPadding":4,"labelOverlap":false,"title":"USD","titleAngle":0,"titleX":12,"titleY":5,"titleAlign":"center","titleBaseline":"middle","titleFontSize":5.5,"titleFontWeight":"normal","titleColor":"#555555"}}}},
{"data":{"name":"candles"},"transform":[{"filter":"datum.c === 67347"}],"mark":{"type":"text","align":"center","baseline":"middle","fontSize":5,"color":"#ffffff","dy":-1},
 "encoding":{"x":{"datum":{"year":2024,"month":12,"date":14,"utc":true},"type":"temporal","scale":{"type":"utc","domain":[{"year":2023,"month":3,"date":19,"utc":true},{"year":2024,"month":12,"date":3,"utc":true}]},"axis":{"values":[1680480000000,1682899200000,1685923200000,1688342400000,1691366400000,1693785600000,1696204800000,1699228800000,1701648000000,1704067200000,1707091200000,1709510400000,1711929600000,1714953600000,1717372800000,1719792000000,1722816000000,1725235200000,1728259200000,1730678400000,1733097600000],"labelExpr":"utcmonth(datum.value)==0 ? utcFormat(datum.value,'%Y') : utcFormat(datum.value,'%b')","labelFontWeight":{"condition":{"test":"utcmonth(datum.value)==0","value":"bold"},"value":"normal"},"labelPadding":3,"labelOverlap":false,"labelFlush":false,"title":"TradingView","titleX":16,"titleY":19,"titleAlign":"left","titleBaseline":"middle","titleFontSize":6.5,"titleFontWeight":600,"titleColor":"#131722"}},
  "y":{"field":"c","type":"quantitative","scale":{"type":"log","domain":[22590,78910],"nice":false},"axis":{"orient":"right","values":[24000,25200,26400,27800,29300,30900,32500,34500,36500,38500,40500,42500,45500,48500,52500,73500],"format":",","labelPadding":4,"labelOverlap":false,"title":"USD","titleAngle":0,"titleX":12,"titleY":5,"titleAlign":"center","titleBaseline":"middle","titleFontSize":5.5,"titleFontWeight":"normal","titleColor":"#555555"}},
  "text":{"field":"c","type":"quantitative","format":","}}},
{"data":{"name":"candles"},"transform":[{"filter":"datum.c === 67347"}],"mark":{"type":"text","align":"center","baseline":"middle","fontSize":4.5,"color":"#e8f5e9","dy":6},
 "encoding":{"x":{"datum":{"year":2024,"month":12,"date":14,"utc":true},"type":"temporal","scale":{"type":"utc","domain":[{"year":2023,"month":3,"date":19,"utc":true},{"year":2024,"month":12,"date":3,"utc":true}]},"axis":{"values":[1680480000000,1682899200000,1685923200000,1688342400000,1691366400000,1693785600000,1696204800000,1699228800000,1701648000000,1704067200000,1707091200000,1709510400000,1711929600000,1714953600000,1717372800000,1719792000000,1722816000000,1725235200000,1728259200000,1730678400000,1733097600000],"labelExpr":"utcmonth(datum.value)==0 ? utcFormat(datum.value,'%Y') : utcFormat(datum.value,'%b')","labelFontWeight":{"condition":{"test":"utcmonth(datum.value)==0","value":"bold"},"value":"normal"},"labelPadding":3,"labelOverlap":false,"labelFlush":false,"title":"TradingView","titleX":16,"titleY":19,"titleAlign":"left","titleBaseline":"middle","titleFontSize":6.5,"titleFontWeight":600,"titleColor":"#131722"}},
  "y":{"field":"c","type":"quantitative","scale":{"type":"log","domain":[22590,78910],"nice":false},"axis":{"orient":"right","values":[24000,25200,26400,27800,29300,30900,32500,34500,36500,38500,40500,42500,45500,48500,52500,73500],"format":",","labelPadding":4,"labelOverlap":false,"title":"USD","titleAngle":0,"titleX":12,"titleY":5,"titleAlign":"center","titleBaseline":"middle","titleFontSize":5.5,"titleFontWeight":"normal","titleColor":"#555555"}},
  "text":{"value":"06:39:56"}}},
{"data":{"name":"candles"},"transform":[{"filter":"datum.c === 67347"}],"mark":{"type":"text","align":"center","baseline":"middle","fontSize":4.5,"color":"#ffffff"},
 "encoding":{"x":{"datum":{"year":2024,"month":11,"date":25,"utc":true},"type":"temporal","scale":{"type":"utc","domain":[{"year":2023,"month":3,"date":19,"utc":true},{"year":2024,"month":12,"date":3,"utc":true}]},"axis":{"values":[1680480000000,1682899200000,1685923200000,1688342400000,1691366400000,1693785600000,1696204800000,1699228800000,1701648000000,1704067200000,1707091200000,1709510400000,1711929600000,1714953600000,1717372800000,1719792000000,1722816000000,1725235200000,1728259200000,1730678400000,1733097600000],"labelExpr":"utcmonth(datum.value)==0 ? utcFormat(datum.value,'%Y') : utcFormat(datum.value,'%b')","labelFontWeight":{"condition":{"test":"utcmonth(datum.value)==0","value":"bold"},"value":"normal"},"labelPadding":3,"labelOverlap":false,"labelFlush":false,"title":"TradingView","titleX":16,"titleY":19,"titleAlign":"left","titleBaseline":"middle","titleFontSize":6.5,"titleFontWeight":600,"titleColor":"#131722"}},
  "y":{"field":"c","type":"quantitative","scale":{"type":"log","domain":[22590,78910],"nice":false},"axis":{"orient":"right","values":[24000,25200,26400,27800,29300,30900,32500,34500,36500,38500,40500,42500,45500,48500,52500,73500],"format":",","labelPadding":4,"labelOverlap":false,"title":"USD","titleAngle":0,"titleX":12,"titleY":5,"titleAlign":"center","titleBaseline":"middle","titleFontSize":5.5,"titleFontWeight":"normal","titleColor":"#555555"}},
  "text":{"value":"BTCUSD"}}}
]
}
